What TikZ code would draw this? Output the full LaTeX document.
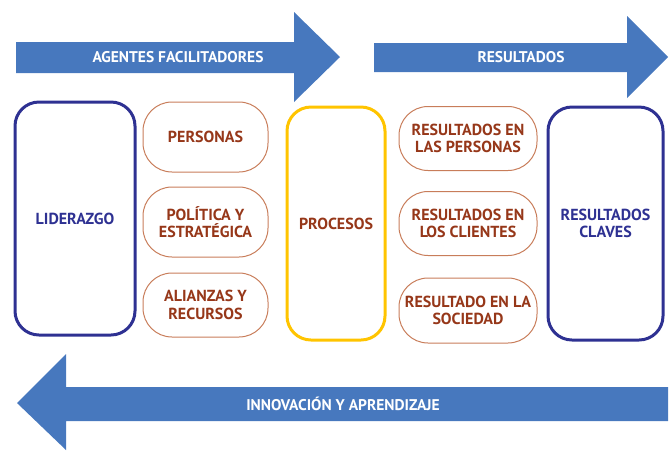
\documentclass[tikz,border=0pt]{standalone}
\usepackage{fontspec}
\setmainfont{PT Sans}
\definecolor{arrowblue}{RGB}{71,120,190}
\definecolor{navy}{RGB}{46,49,146}
\definecolor{gold}{RGB}{255,196,0}
\definecolor{rust}{RGB}{150,55,25}
\definecolor{edgebrown}{RGB}{200,125,90}
\begin{document}
\begin{tikzpicture}[x=1pt,y=-1pt,
  lbl/.style={font=\bfseries\fontsize{16}{17.5}\selectfont, align=center, inner sep=0pt},
  arrowlbl/.style={lbl, text=white, font=\bfseries\fontsize{15.5}{17}\selectfont},
  bigbox/.style={draw=#1, line width=3pt, rounded corners=24pt, minimum width=120pt, minimum height=233pt},
  smallbox/.style={draw=edgebrown, line width=1pt, rounded corners=29pt, text=rust, minimum width=125pt, minimum height=70pt},
  rightbox/.style={smallbox, minimum width=138pt, minimum height=64pt},
  arrowfill/.style={fill=arrowblue}]
\useasboundingbox (0,0) rectangle (671,451);
% arrows
\fill[arrowfill] (16,42) -- (294,42) -- (294,12) -- (340,57) -- (294,102) -- (294,73) -- (16,73) -- cycle;
\node[arrowlbl] (agentes) at (178,57.5) {AGENTES FACILITADORES};
\fill[arrowfill] (374,43) -- (627,43) -- (627,16) -- (668,57) -- (627,98) -- (627,72) -- (374,72) -- cycle;
\node[arrowlbl] (resultados) at (521,57.5) {RESULTADOS};
\fill[arrowfill] (668,387) -- (66,387) -- (66,354) -- (17,403) -- (66,450) -- (66,421) -- (668,421) -- cycle;
\node[arrowlbl] (innov) at (343,404) {INNOVACIÓN Y APRENDIZAJE};
% boxes
\node[bigbox=navy, text=navy, lbl] (lid) at (75,218.5) {LIDERAZGO};
\node[smallbox, lbl] (per) at (205.5,137) {PERSONAS};
\node[smallbox, lbl] (pol) at (205.5,222) {POLÍTICA Y\\ESTRATÉGICA};
\node[smallbox, lbl, minimum height=64pt] (ali) at (205.5,305) {ALIANZAS Y\\RECURSOS};
\node[bigbox=gold, text=rust, lbl, minimum width=98pt] (pro) at (336,223.5) {PROCESOS};
\node[rightbox, lbl] (rp) at (468,138.5) {RESULTADOS EN\\LAS PERSONAS};
\node[rightbox, lbl] (rc) at (468,223.5) {RESULTADOS EN\\LOS CLIENTES};
\node[rightbox, lbl, minimum height=65pt] (rs) at (468,310.5) {RESULTADO EN LA\\SOCIEDAD};
\node[bigbox=navy, text=navy, lbl, minimum width=115pt] (rcl) at (605.5,223.5) {RESULTADOS\\CLAVES};
\end{tikzpicture}
\end{document}
